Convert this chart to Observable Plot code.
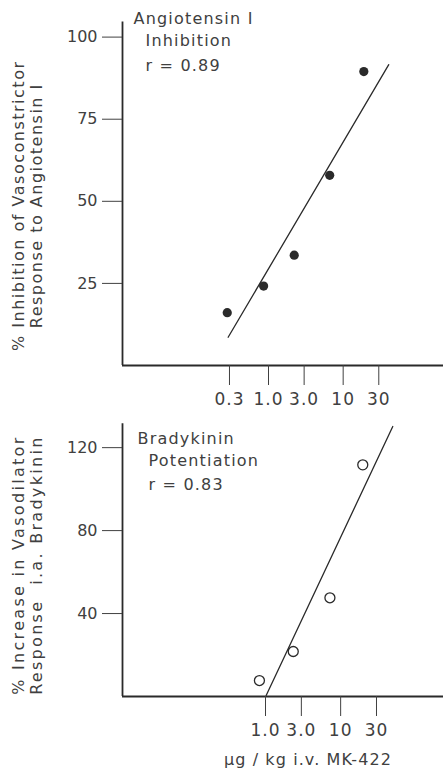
<!DOCTYPE html>
<html><head><meta charset="utf-8">
<script src="https://cdn.jsdelivr.net/npm/d3@7"></script>
<script src="https://cdn.jsdelivr.net/npm/@observablehq/plot@0.6"></script>
<style>
html,body{margin:0;padding:0;background:#fff;}
#chart svg{display:block;}
</style></head><body><div id="chart"></div>
<script>
// ---- Panel A: Angiotensin I inhibition ----
const angDoses = [0.28, 0.86, 2.21, 6.6, 18.9];
const angInhibition = [16.1, 24.2, 33.6, 57.9, 89.5];
const angFitDoses = [0.288, 40.8];
const angFitValues = [8.6, 91.6];
const angXTicks = [0.3, 1, 3, 10, 30];
const angXTickLabels = ["0.3", "1.0", "3.0", "10", "30"];
const angYTicks = [25, 50, 75, 100];
const angNotes = ["Angiotensin I", "Inhibition", "r = 0.89"];
const angYTitle = "% Inhibition of Vasoconstrictor\nResponse to Angiotensin I";

// ---- Panel B: Bradykinin potentiation ----
const brDoses = [0.83, 2.34, 7.2, 19.7];
const brIncrease = [7.7, 21.7, 47.6, 111.7];
const brFitDoses = [1.02, 49.4];
const brFitValues = [0.5, 130.2];
const brXTicks = [1, 3, 10, 30];
const brXTickLabels = ["1.0", "3.0", "10", "30"];
const brYTicks = [40, 80, 120];
const brNotes = ["Bradykinin", "Potentiation", "r = 0.83"];
const brYTitle = "% Increase in Vasodilator\nResponse  i.a. Bradykinin";
const doseTitle = "\u03bcg / kg i.v. MK-422";

const ink = "#2a2a2a";
const textInk = "#404040";

function panel(o) {
  const pts = o.doses.map((d, i) => ({dose: d, value: o.values[i]}));
  const fit = o.fitDoses.map((d, i) => ({dose: d, value: o.fitValues[i]}));
  const marks = [
    Plot.ruleY([o.yDomain[0]], {stroke: ink, strokeWidth: 1.8}),
    Plot.ruleX([o.xDomain[0]], {stroke: ink, strokeWidth: 1.8}),
    Plot.axisY({ticks: o.yTicks, tickSize: 20, tickPadding: 5, fontSize: 16, color: textInk, label: null, tickFormat: d => String(d)}),
    Plot.axisX({ticks: o.xTicks, tickSize: 20, color: textInk, label: null, tickFormat: () => ""}),
    Plot.text(o.xTicks, {x: d => d, text: (d, i) => o.xTickLabels[i], frameAnchor: "bottom",
      lineAnchor: "top", dy: o.xLabelDy, fontSize: 17, fill: textInk}),
    Plot.line(fit, {x: "dose", y: "value", stroke: ink, strokeWidth: 1.3}),
    Plot.dot(pts, {x: "dose", y: "value", r: o.filled ? 4.6 : 5,
      fill: o.filled ? ink : "none", stroke: ink, strokeWidth: o.filled ? 0 : 1.3}),
    Plot.text([o.yTitle], {frameAnchor: "left", rotate: -90, dx: -95, dy: o.yTitleDy, fontSize: 16,
      lineHeight: 1.125, textAnchor: "middle", fill: textInk}),
    ...o.notes.map((t, i) => Plot.text([t], {frameAnchor: "top-left", dx: o.noteDx[i], dy: o.noteDy[i],
      lineAnchor: "top", textAnchor: "start", fontSize: 16, fill: textInk}))
  ];
  if (o.xTitle) marks.push(Plot.text([o.xTitle], {frameAnchor: "bottom", dx: 25, dy: 57, lineAnchor: "top",
    textAnchor: "middle", fontSize: 16, fill: textInk}));
  const svg = Plot.plot({
    width: 443, height: o.height,
    marginLeft: 122, marginRight: 0, marginTop: o.marginTop, marginBottom: o.marginBottom,
    x: {type: "log", domain: o.xDomain},
    y: {domain: o.yDomain},
    style: {fontFamily: "DejaVu Sans", fontSize: "16px", color: textInk, background: "white", overflow: "visible"},
    marks
  });
  // letter spacing to mimic the wide stencil lettering
  d3.select(svg).selectAll("text").each(function () {
    const t = this.textContent;
    let ls = null;
    if (o.notes.includes(t)) ls = 1.2;
    else if (o.xTickLabels.includes(t)) ls = 1;
    else if (t === doseTitle) ls = 1.1;
    else if (t.startsWith("%")) ls = o.titleLs;
    if (ls != null) this.setAttribute("letter-spacing", ls);
  });
  return svg;
}

const chart = document.getElementById("chart");
chart.appendChild(panel({
  height: 420, marginTop: 21.5, marginBottom: 55,
  xDomain: [0.01107, 220.8], yDomain: [0, 104.6],
  xTicks: angXTicks, xTickLabels: angXTickLabels, yTicks: angYTicks, xLabelDy: 27,
  doses: angDoses, values: angInhibition, fitDoses: angFitDoses, fitValues: angFitValues, filled: true,
  notes: angNotes, noteDx: [11, 23, 23], noteDy: [-9, 13, 38],
  yTitle: angYTitle, yTitleDy: 12, titleLs: 1.5
}));
chart.appendChild(panel({
  height: 352, marginTop: 3.3, marginBottom: 76,
  xDomain: [0.0125, 233.8], yDomain: [0, 131.5],
  xTicks: brXTicks, xTickLabels: brXTickLabels, yTicks: brYTicks, xLabelDy: 27,
  doses: brDoses, values: brIncrease, fitDoses: brFitDoses, fitValues: brFitValues, filled: false,
  notes: brNotes, noteDx: [15, 26, 26], noteDy: [8.4, 31, 55],
  yTitle: brYTitle, yTitleDy: 5, titleLs: 2.3, xTitle: doseTitle
}));
</script></body></html>
